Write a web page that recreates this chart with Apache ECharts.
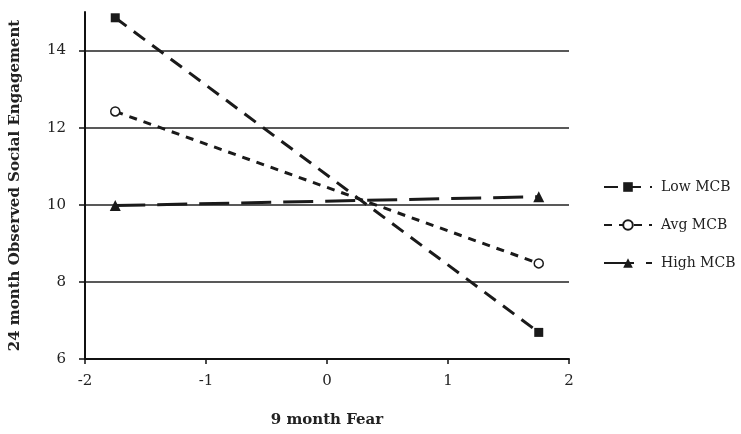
<!DOCTYPE html>
<html><head><meta charset="utf-8">
<script src="https://cdn.jsdelivr.net/npm/echarts@6/dist/echarts.min.js"></script>
<style>html,body{margin:0;padding:0;background:#fff}#c{width:741px;height:434px}</style>
</head><body><div id="c"></div>
<script>
const xValues = [-1.75, 1.75];
const lowMCB = [14.85, 6.69];
const avgMCB = [12.42, 8.48];
const highMCB = [9.98, 10.21];
const seriesNames = ['Low MCB', 'Avg MCB', 'High MCB'];
const xTitle = '9 month Fear';
const yTitle = '24 month Observed Social Engagement';
const yTickValues = [6, 8, 10, 12, 14];

const font = '"DejaVu Serif", "Liberation Serif", serif';
const chart = echarts.init(document.getElementById('c'), null, {renderer: 'canvas'});
function pts(v){ return xValues.map((x,i)=>[x, v[i]]); }
const styles = [
  {sym:'rect', size:9, dash:[14,9], fill:'#1a1a1a'},
  {sym:'circle', size:9, dash:[8,7], fill:'#fff'},
  {sym:'triangle', size:11, dash:[30,12], fill:'#1a1a1a'}
];
const data = [lowMCB, avgMCB, highMCB];
chart.setOption({
  animation: false,
  backgroundColor: '#fff',
  grid: {left: 82, right: 172, top: 12, bottom: 75, containLabel: false},
  xAxis: {
    type: 'value', min: -2, max: 2, interval: 1,
    name: xTitle, nameLocation: 'middle', nameGap: 54,
    nameTextStyle: {fontFamily: font, fontWeight: 'bold', fontSize: 15, color: '#222'},
    axisLine: {onZero: false, lineStyle: {color: '#111', width: 2}},
    axisTick: {show: true, inside: false, length: 5, lineStyle: {color: '#111', width: 1.5}},
    axisLabel: {fontFamily: font, fontSize: 15, color: '#222', margin: 15},
    splitLine: {show: false}
  },
  yAxis: {
    type: 'value', min: 6, max: 15, interval: 2,
    name: yTitle, nameLocation: 'middle', nameGap: 62,
    nameTextStyle: {fontFamily: font, fontWeight: 'bold', fontSize: 15, color: '#222'},
    axisLine: {show: true, onZero: false, lineStyle: {color: '#111', width: 2}},
    axisTick: {show: true, inside: false, length: 6, lineStyle: {color: '#111', width: 1.5},
      customValues: yTickValues},
    axisLabel: {fontFamily: font, fontSize: 15, color: '#222', margin: 19,
      customValues: yTickValues},
    splitLine: {show: true, lineStyle: {color: ['#222','#222','#222','#222','#222','rgba(0,0,0,0)'], width: 1.5}}
  },
  legend: {
    orient: 'vertical', left: 603, top: 178, itemGap: 20, padding: 0,
    itemWidth: 48, itemHeight: 12,
    textStyle: {fontFamily: font, fontSize: 14, color: '#222', lineHeight: 18, padding: [0,0,0,4]},
    data: seriesNames
  },
  series: seriesNames.map((n,i)=>({
    name: n, type: 'line', data: pts(data[i]),
    symbol: styles[i].sym, symbolSize: styles[i].size, showAllSymbol: true,
    itemStyle: {color: styles[i].fill, borderColor: '#1a1a1a', borderWidth: i===1 ? 1.5 : 0},
    lineStyle: {color: '#1a1a1a', width: 3, type: styles[i].dash, cap: 'butt'},
    z: 3
  }))
});
</script></body></html>
